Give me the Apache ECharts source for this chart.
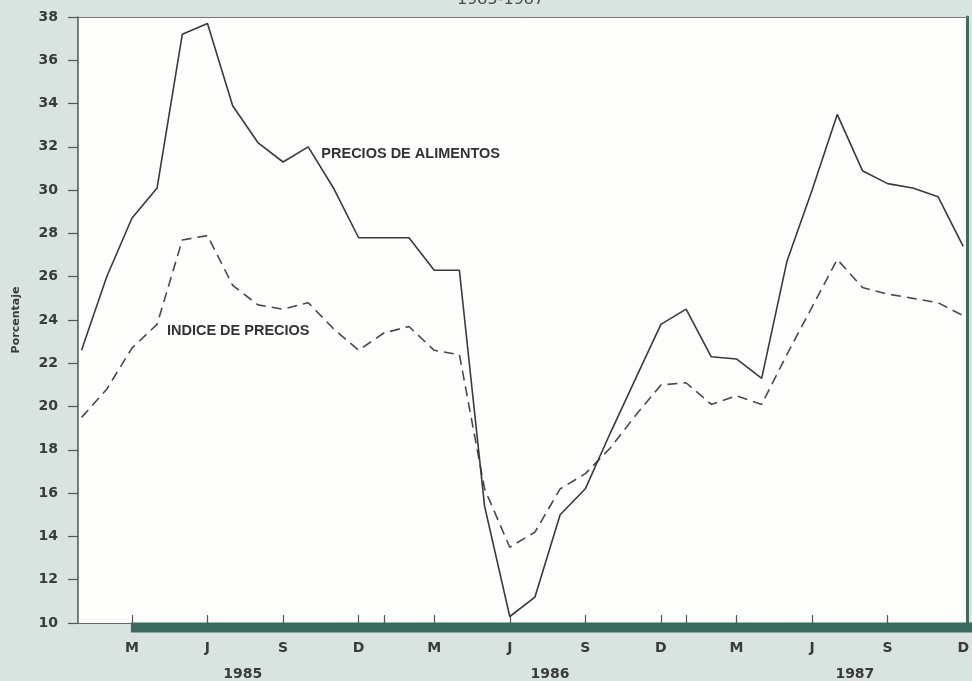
<!DOCTYPE html>
<html><head><meta charset="utf-8">
<script src="https://cdn.jsdelivr.net/npm/echarts@6/dist/echarts.min.js"></script>
<style>html,body{margin:0;padding:0;background:#d9e4e0;} #c{width:972px;height:681px;}</style>
</head><body><div id="c"></div>
<script>
// Monthly data, Jan 1985 .. Dec 1987 (index 0..35)
const alimentos = [22.6, 26.0, 28.7, 30.1, 37.2, 37.7, 33.9, 32.2, 31.3, 32.0, 30.1, 27.8,
                   27.8, 27.8, 26.3, 26.3, 15.4, 10.3, 11.2, 15.0, 16.2, 18.8, 21.3, 23.8,
                   24.5, 22.3, 22.2, 21.3, 26.7, 30.0, 33.5, 30.9, 30.3, 30.1, 29.7, 27.4];
const indice    = [19.5, 20.8, 22.7, 23.8, 27.7, 27.9, 25.6, 24.7, 24.5, 24.8, 23.6, 22.6,
                   23.4, 23.7, 22.6, 22.4, 16.2, 13.5, 14.2, 16.2, 16.9, 18.1, 19.6, 21.0,
                   21.1, 20.1, 20.5, 20.1, 22.4, 24.6, 26.8, 25.5, 25.2, 25.0, 24.8, 24.2];
const monthLabelIdx = [2, 5, 8, 11, 14, 17, 20, 23, 26, 29, 32, 35];
const monthLabels   = ['M', 'J', 'S', 'D', 'M', 'J', 'S', 'D', 'M', 'J', 'S', 'D'];
const tickIdx = [2, 5, 8, 11, 12, 14, 17, 20, 23, 24, 26, 29, 32];
const yearIdx = [6.4, 18.6, 30.7];
const yearLabels = ['1985', '1986', '1987'];
const seriesNames = ['PRECIOS DE ALIMENTOS', 'INDICE DE PRECIOS'];

const X_MIN = -0.14, X_MAX = 35.18;
const INK = '#3a3a3a', TEAL = '#3b6a5f';
function nearestLabel(v, idx, labels) {
  let best = 0;
  for (let i = 1; i < idx.length; i++) if (Math.abs(idx[i] - v) < Math.abs(idx[best] - v)) best = i;
  return labels[best];
}
const chart = echarts.init(document.getElementById('c'), null, {renderer: 'canvas'});
const option = {
  backgroundColor: '#d9e4e0',
  animation: false,
  title: {text: '1985-1987', left: 452, top: -13,
    textStyle: {fontFamily: 'DejaVu Sans', fontSize: 16, fontWeight: 'normal', color: '#4a4a4a'}},
  grid: {left: 78, right: 2, top: 17, bottom: 58, show: true, backgroundColor: '#fdfdfc', borderWidth: 0},
  xAxis: [
    {type: 'value', min: X_MIN, max: X_MAX, position: 'bottom', splitLine: {show: false},
      axisLine: {show: true, onZero: false, lineStyle: {color: '#666', width: 1.2}},
      axisTick: {show: true, inside: true, length: 8, customValues: tickIdx, lineStyle: {color: '#555', width: 1.2}},
      axisLabel: {show: true, customValues: monthLabelIdx, margin: 18,
        formatter: v => nearestLabel(v, monthLabelIdx, monthLabels),
        fontFamily: 'DejaVu Sans', fontWeight: 'bold', fontSize: 14, color: INK}},
    {type: 'value', min: X_MIN, max: X_MAX, position: 'top', splitLine: {show: false},
      axisLine: {show: true, onZero: false, lineStyle: {color: '#777', width: 1}},
      axisTick: {show: false}, axisLabel: {show: false}},
    {type: 'value', min: X_MIN, max: X_MAX, position: 'bottom', splitLine: {show: false},
      axisLine: {show: false, onZero: false}, axisTick: {show: false},
      axisLabel: {show: true, customValues: yearIdx, margin: 44,
        formatter: v => nearestLabel(v, yearIdx, yearLabels),
        fontFamily: 'DejaVu Sans', fontWeight: 'bold', fontSize: 14, color: INK}}
  ],
  yAxis: [
    {type: 'value', min: 10, max: 38, interval: 2, position: 'left', splitLine: {show: false},
      axisLine: {show: true, onZero: false, lineStyle: {color: '#555', width: 1.5}},
      axisTick: {show: true, length: 10, lineStyle: {color: '#555', width: 1.2}},
      axisLabel: {margin: 20, fontFamily: 'DejaVu Sans', fontWeight: 'bold', fontSize: 14, color: INK},
      name: 'Porcentaje', nameLocation: 'middle', nameGap: 56, nameRotate: 90,
      nameTextStyle: {fontFamily: 'DejaVu Sans', fontWeight: 'bold', fontSize: 11, color: INK}},
    {type: 'value', min: 10, max: 38, position: 'right', splitLine: {show: false},
      axisLine: {show: true, onZero: false, lineStyle: {color: TEAL, width: 3}},
      axisTick: {show: false}, axisLabel: {show: false}}
  ],
  series: [
    {name: seriesNames[0], type: 'line', xAxisIndex: 0, yAxisIndex: 0, symbol: 'none',
      data: alimentos.map((v, i) => [i, v]), lineStyle: {color: INK, width: 1.6}, z: 3},
    {name: seriesNames[1], type: 'line', xAxisIndex: 0, yAxisIndex: 0, symbol: 'none',
      data: indice.map((v, i) => [i, v]), lineStyle: {color: '#4a4a4a', width: 1.6, type: [10, 6]}, z: 2}
  ]
};
chart.setOption(option);

const px = (x, y) => chart.convertToPixel({xAxisIndex: 0, yAxisIndex: 0}, [x, y]);
const bandStart = chart.convertToPixel({xAxisIndex: 0}, monthLabelIdx[0]);
const axisY = chart.convertToPixel({yAxisIndex: 0}, 10);
const p1 = px(9.52, 31.69), p2 = px(3.39, 23.48);
const annStyle = {fontFamily: 'Liberation Sans', fontWeight: 'bold', fontSize: 14.5, fill: '#333'};
chart.setOption({graphic: [
  {type: 'rect', z: 10, shape: {x: bandStart - 1, y: axisY - 0.5, width: 972 - bandStart + 1, height: 10},
    style: {fill: TEAL}},
  {type: 'text', z: 10, x: p1[0], y: p1[1],
    style: Object.assign({text: seriesNames[0], textVerticalAlign: 'middle'}, annStyle)},
  {type: 'text', z: 10, x: p2[0], y: p2[1],
    style: Object.assign({text: seriesNames[1], textVerticalAlign: 'middle'}, annStyle)}
]});
</script>
</body></html>
